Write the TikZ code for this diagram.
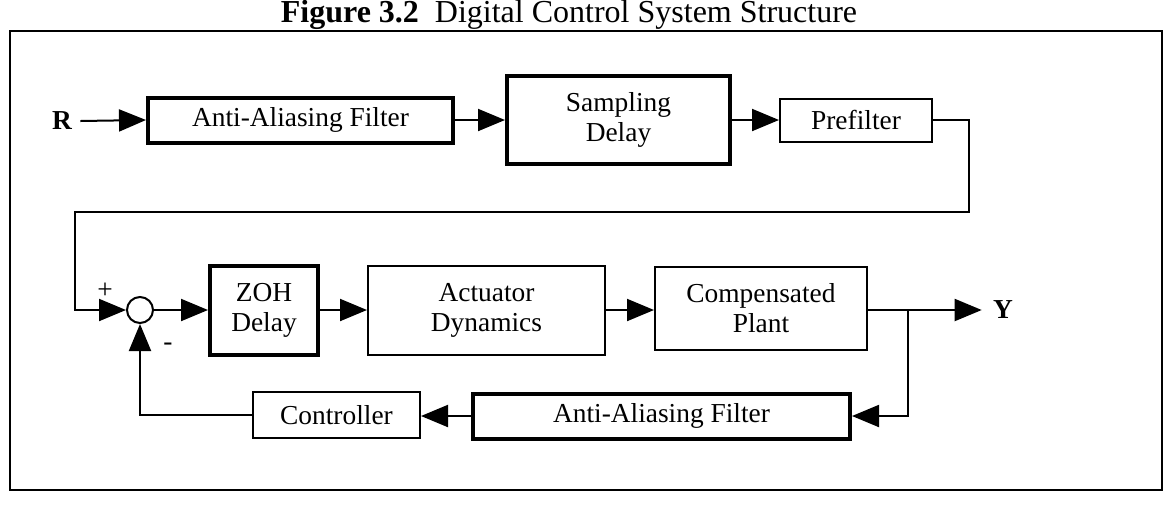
\documentclass[tikz,border=0pt]{standalone}
\usepackage{fontspec}
\setmainfont{Liberation Serif}
\usetikzlibrary{arrows.meta}
\tikzset{
  txt/.style={font=\fontsize{13.7}{15}\selectfont},
  blk/.style={draw, line width=1pt, inner sep=0pt, align=center, txt},
  thk/.style={blk, line width=2pt},
  wire/.style={line width=1pt},
  conn/.style={wire, -{Triangle[length=13.5pt,width=11pt]}},
}
\begin{document}
\begin{tikzpicture}[x=0.5pt,y=-0.5pt]
\useasboundingbox (0,0) rectangle (1166,505);
\node[anchor=base, font=\fontsize{16}{18}\selectfont, inner sep=0pt] (title) at (569,22)
  {\textbf{Figure 3.2}\ \ Digital Control System Structure};
\draw[line width=1.2pt] (10,31) rectangle (1162,490);

% row 1
\node[txt, font=\fontsize{13.7}{15}\selectfont\bfseries, inner sep=0pt] (R) at (62,121) {R};
\node[thk, minimum width=152.5pt, minimum height=22.5pt] (aaf1) at (300.5,120) {Anti-Aliasing Filter};
\node[thk, minimum width=111.5pt, minimum height=44pt] (samp) at (618.5,120) {Sampling\\Delay};
\node[blk, minimum width=76pt, minimum height=21.5pt] (pref) at (856,120) {Prefilter};

% row 2
\node[draw, circle, line width=1pt, minimum size=13pt, inner sep=0pt] (sum) at (140,310) {};
\node[thk, minimum width=54pt, minimum height=44.5pt] (zoh) at (264,310) {ZOH\\Delay};
\node[blk, minimum width=118.5pt, minimum height=44.5pt] (act) at (486.5,310) {Actuator\\Dynamics};
\node[blk, minimum width=106pt, minimum height=41.5pt] (cp) at (761,308) {Compensated\\Plant};
\node[txt, font=\fontsize{13.7}{15}\selectfont\bfseries, inner sep=0pt] (Y) at (1003,310) {Y};
\node[txt, inner sep=0pt] (plus) at (105,291) {+};
\node[txt, inner sep=0pt] (minus) at (168,347) {-};

% row 3
\node[thk, minimum width=188.5pt, minimum height=22.5pt] (aaf2) at (661.5,416) {Anti-Aliasing Filter};
\node[blk, minimum width=83.5pt, minimum height=23pt] (ctrl) at (336.5,415) {Controller};

\coordinate (c1) at (969,212);
\coordinate (c2) at (75,212);
\coordinate (br) at (908,310);

% connectors
\draw[conn] ([xshift=4pt]R.east) -- (aaf1.west);
\draw[conn] (aaf1.east) -- (samp.west);
\draw[conn] (samp.east) -- (pref.west);
\draw[conn] (pref.east) -| (c1) -- (c2) |- (sum.west);
\draw[conn] (sum.east) -- (zoh.west);
\draw[conn] (zoh.east) -- (act.west);
\draw[conn] (act.east) -- (act.east -| cp.west);
\draw[conn] (cp.east |- br) -- ([xshift=-5.5pt]Y.west);
\draw[conn] (br) |- (aaf2.east);
\draw[conn] (aaf2.west) -- (aaf2.west -| ctrl.east);
\draw[conn] (ctrl.west) -| (sum.south);
\end{tikzpicture}
\end{document}
